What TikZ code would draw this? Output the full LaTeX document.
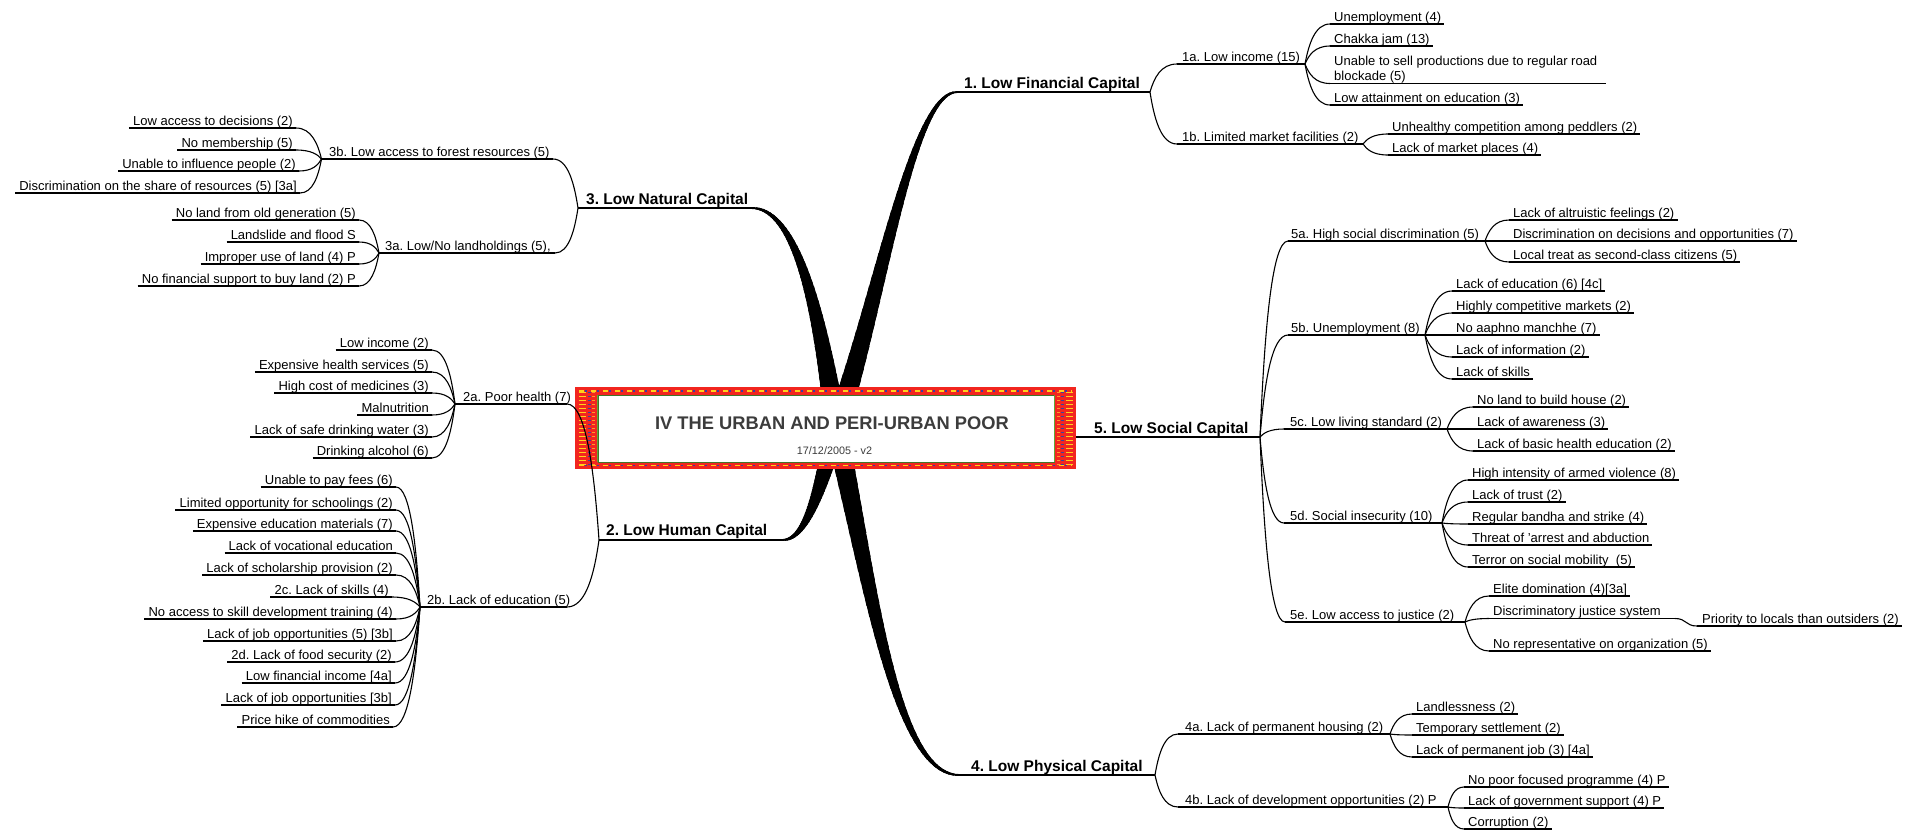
\documentclass[tikz,border=0pt]{standalone}
\usepackage{fontspec}
\setmainfont{Liberation Sans}
\usetikzlibrary{calc}
\definecolor{boxred}{HTML}{F2261F}
\definecolor{boxgreen}{HTML}{5FA83A}
\definecolor{titlegray}{HTML}{3C3C3C}
\definecolor{patyel}{HTML}{FFD21A}
\definecolor{patblue}{HTML}{3B3FA0}
\definecolor{patorange}{HTML}{FF9A2A}
\tikzset{
  txt/.style={font=\fontsize{13}{15}\selectfont\frenchspacing, inner sep=0pt, align=left},
  mainlbl/.style={font=\fontsize{15.5}{18}\selectfont\bfseries\frenchspacing, inner sep=0pt, anchor=base west},
  ul/.style={line width=1.1pt, black},
  mainul/.style={line width=1.8pt, black},
}
\newcommand{\lnk}[2]{\draw[ul] let \p1=(#1), \p2=(#2) in (\p1) .. controls ({\x1+0.15*(\x2-\x1)},{\y1+0.5*(\y2-\y1)}) and ({\x2-0.6*(\x2-\x1)},\y2) .. (\p2);}
% right leaf: name, fork, ul start x, ul y, text
\newcommand{\rleaf}[5]{%
  \coordinate (#1s) at (#3,#4);
  \node[txt, anchor=base west] (#1) at (#3+4,#4-3) {#5};
  \coordinate (#1e) at ($(#1.east |- #1s)+(3pt,0)$);
  \draw[ul] (#1s) -- (#1e);
  \lnk{#2}{#1s}
}
% left leaf: name, fork, text right x, ul y, text
\newcommand{\lleaf}[5]{%
  \coordinate (#1e) at (#3+3,#4);
  \node[txt, anchor=base east] (#1) at (#3,#4-3) {#5};
  \coordinate (#1s) at ($(#1.west |- #1e)+(-4pt,0)$);
  \draw[ul] (#1s) -- (#1e);
  \lnk{#2}{#1e}
}
\newcommand{\taper}[4]{%
  \foreach \kk in {1,...,40}{%
    \pgfmathsetmacro\tpar{\kk/40}%
    \pgfmathsetmacro\tpw{1.8+20*(1-(\kk-1)/40)^1.3}%
    \coordinate (qA) at ($(#1)!\tpar!(#2)$);
    \coordinate (qB) at ($(#2)!\tpar!(#3)$);
    \coordinate (qC) at ($(#3)!\tpar!(#4)$);
    \coordinate (qD) at ($(qA)!\tpar!(qB)$);
    \coordinate (qE) at ($(qB)!\tpar!(qC)$);
    \coordinate (qF) at ($(qD)!\tpar!(qE)$);
    \draw[line width=\tpw pt, black] (#1) .. controls (qA) and (qD) .. (qF);
  }%
}
\begin{document}
\frenchspacing
\begin{tikzpicture}[x=1pt,y=-1pt]
\fill[white] (0,0) rectangle (1921,831);
\useasboundingbox (0,0) rectangle (1921,831);

% ---------- main branches (thick) ----------
\coordinate (c0) at (836,428);
\coordinate (m1s) at (957,92);  \coordinate (f1) at (1150,92);
\coordinate (m3e) at (752,208); \coordinate (f3) at (578,208);
\coordinate (m2e) at (783,540); \coordinate (f2) at (599,540);
\coordinate (m4s) at (959,775); \coordinate (f4) at (1155,775);
\coordinate (b1a) at (880,300); \coordinate (b1b) at (912,92);
\coordinate (b3a) at (822,330); \coordinate (b3b) at (800,208);
\coordinate (b2a) at (822,480); \coordinate (b2b) at (808,540);
\coordinate (b4a) at (870,580); \coordinate (b4b) at (895,775);
\taper{c0}{b1a}{b1b}{m1s}
\taper{c0}{b3a}{b3b}{m3e}
\taper{c0}{b2a}{b2b}{m2e}
\taper{c0}{b4a}{b4b}{m4s}

% ---------- central box ----------
\node[fill=boxred, minimum width=501pt, minimum height=82pt, inner sep=0pt] (root) at (825.5,428) {};
\draw[patyel, line width=1.4pt, dash pattern=on 5pt off 7pt] ([xshift=4pt,yshift=-4pt]root.north west) -- ([xshift=-4pt,yshift=-4pt]root.north east);
\draw[patblue, line width=1.4pt, dash pattern=on 2pt off 10pt, dash phase=-6pt] ([xshift=4pt,yshift=-4pt]root.north west) -- ([xshift=-4pt,yshift=-4pt]root.north east);
\draw[patyel, line width=1.4pt, dash pattern=on 5pt off 7pt] ([xshift=4pt,yshift=3.5pt]root.south west) -- ([xshift=-4pt,yshift=3.5pt]root.south east);
\draw[patblue, line width=1.4pt, dash pattern=on 2pt off 10pt, dash phase=-6pt] ([xshift=4pt,yshift=3.5pt]root.south west) -- ([xshift=-4pt,yshift=3.5pt]root.south east);
\foreach \yy in {392,396,...,464}{
  \draw[patyel, line width=1pt] (579,\yy) -- (586,\yy);
  \draw[patblue, line width=1pt] (588,\yy) -- (591,\yy);
  \draw[patorange, line width=1pt] (592,\yy) -- (595,\yy);
  \draw[patorange, line width=1pt] (1057,\yy) -- (1060,\yy);
  \draw[patblue, line width=1pt] (1061,\yy) -- (1064,\yy);
  \draw[patyel, line width=1pt] (1066,\yy) -- (1073,\yy);
}
\node[fill=white, draw=boxgreen!70!black, line width=0.6pt, minimum width=456pt, minimum height=67pt, inner sep=0pt] (inner) at (826,428.5) {};
\draw[boxgreen, line width=1.5pt] (inner.south west) -- (inner.north west);
\draw[boxgreen, line width=1.5pt] (inner.south east) -- (inner.north east);
\node[font=\fontsize{18.3}{20}\selectfont\bfseries, text=titlegray, inner sep=0pt, anchor=base] (title) at (832,429.5) {IV THE URBAN AND PERI-URBAN POOR};
\node[font=\fontsize{10.8}{12}\selectfont, text=titlegray, inner sep=0pt, anchor=base] (date) at (834.5,454) {17/12/2005 - v2};

% ---------- 1. Low Financial Capital ----------
\node[mainlbl] (n1) at (964,88) {1. Low Financial Capital};
\draw[mainul] (m1s) -- (f1);
\coordinate (p1as) at (1177,64); \coordinate (f1a) at (1305,64);
\node[txt, anchor=base west] (n1a) at (1182,61) {1a. Low income (15)};
\draw[ul] (p1as) -- (f1a); \lnk{f1}{p1as}
\rleaf{a1}{f1a}{1330}{24}{Unemployment (4)}
\rleaf{a2}{f1a}{1330}{46}{Chakka jam (13)}
\coordinate (a3s) at (1330,83.5);
\node[txt, anchor=south west] (a3) at (1334,83) {Unable to sell productions due to regular road\\blockade (5)};
\coordinate (a3e) at (1606,83.5);
\draw[ul] (a3s) -- (a3e); \lnk{f1a}{a3s}
\rleaf{a4}{f1a}{1330}{105}{Low attainment on education (3)}
\coordinate (p1bs) at (1177,144); \coordinate (f1b) at (1363,144);
\node[txt, anchor=base west] (n1b) at (1182,141) {1b. Limited market facilities (2)};
\draw[ul] (p1bs) -- (f1b); \lnk{f1}{p1bs}
\rleaf{b1}{f1b}{1388}{134}{Unhealthy competition among peddlers (2)}
\rleaf{b2}{f1b}{1388}{155}{Lack of market places (4)}

% ---------- 5. Low Social Capital ----------
\coordinate (f5) at (1260,437);
\coordinate (m5s) at (root.east |- f5);
\node[mainlbl] (n5) at (1094,433) {5. Low Social Capital};
\draw[mainul] (m5s) -- (f5);
\coordinate (p5as) at (1288,241); \coordinate (f5a) at (1485,241);
\node[txt, anchor=base west] (n5a) at (1291,238) {5a. High social discrimination (5)};
\draw[ul] (p5as) -- (f5a); \lnk{f5}{p5as}
\rleaf{sa1}{f5a}{1509}{220}{Lack of altruistic feelings (2)}
\rleaf{sa2}{f5a}{1509}{241}{Discrimination on decisions and opportunities (7)}
\rleaf{sa3}{f5a}{1509}{262}{Local treat as second-class citizens (5)}
\coordinate (p5bs) at (1288,335); \coordinate (f5b) at (1425,335);
\node[txt, anchor=base west] (n5b) at (1291,332) {5b. Unemployment (8)};
\draw[ul] (p5bs) -- (f5b); \lnk{f5}{p5bs}
\rleaf{sb1}{f5b}{1452}{291}{Lack of education (6) [4c]}
\rleaf{sb2}{f5b}{1452}{313}{Highly competitive markets (2)}
\rleaf{sb3}{f5b}{1452}{335}{No aaphno manchhe (7)}
\rleaf{sb4}{f5b}{1452}{357}{Lack of information (2)}
\rleaf{sb5}{f5b}{1452}{379}{Lack of skills}
\coordinate (p5cs) at (1284,429); \coordinate (f5c) at (1447,429);
\node[txt, anchor=base west] (n5c) at (1290,426) {5c. Low living standard (2)};
\draw[ul] (p5cs) -- (f5c); \lnk{f5}{p5cs}
\rleaf{sc1}{f5c}{1473}{407}{No land to build house (2)}
\rleaf{sc2}{f5c}{1473}{429}{Lack of awareness (3)}
\rleaf{sc3}{f5c}{1473}{451}{Lack of basic health education (2)}
\coordinate (p5ds) at (1284,523); \coordinate (f5d) at (1442,523);
\node[txt, anchor=base west] (n5d) at (1290,520) {5d. Social insecurity (10)};
\draw[ul] (p5ds) -- (f5d); \lnk{f5}{p5ds}
\rleaf{sd1}{f5d}{1468}{480}{High intensity of armed violence (8)}
\rleaf{sd2}{f5d}{1468}{502}{Lack of trust (2)}
\rleaf{sd3}{f5d}{1468}{524}{Regular bandha and strike (4)}
\rleaf{sd4}{f5d}{1468}{545}{Threat of 'arrest and abduction}
\rleaf{sd5}{f5d}{1468}{567}{Terror on social mobility\ \ (5)}
\coordinate (p5es) at (1285,622); \coordinate (f5e) at (1465,622);
\node[txt, anchor=base west] (n5e) at (1290,619) {5e. Low access to justice (2)};
\draw[ul] (p5es) -- (f5e); \lnk{f5}{p5es}
\rleaf{se1}{f5e}{1489}{596}{Elite domination (4)[3a]}
\coordinate (se2s) at (1489,618.5); \coordinate (se2e) at (1675,618.5);
\node[txt, anchor=base west] (se2) at (1493,615.5) {Discriminatory justice system};
\draw[ul] (se2s) -- (se2e); \lnk{f5e}{se2s}
\coordinate (se2as) at (1697,626);
\node[txt, anchor=base west] (se2a) at (1702,623) {Priority to locals than outsiders (2)};
\coordinate (se2ae) at ($(se2a.east |- se2as)+(3pt,0)$);
\draw[ul] (se2as) -- (se2ae);
\draw[ul] (se2e) .. controls +(12pt,0) and +(-12pt,0) .. (se2as);
\rleaf{se3}{f5e}{1489}{651}{No representative on organization (5)}

% ---------- 4. Low Physical Capital ----------
\node[mainlbl] (n4) at (971,771) {4. Low Physical Capital};
\draw[mainul] (m4s) -- (f4);
\coordinate (p4as) at (1178,734); \coordinate (f4a) at (1390,734);
\node[txt, anchor=base west] (n4a) at (1185,731) {4a. Lack of permanent housing (2)};
\draw[ul] (p4as) -- (f4a); \lnk{f4}{p4as}
\rleaf{pa1}{f4a}{1412}{714}{Landlessness (2)}
\rleaf{pa2}{f4a}{1412}{735}{Temporary settlement (2)}
\rleaf{pa3}{f4a}{1412}{757}{Lack of permanent job (3) [4a]}
\coordinate (p4bs) at (1178,807); \coordinate (f4b) at (1448,807);
\node[txt, anchor=base west] (n4b) at (1185,804) {4b. Lack of development opportunities (2) P};
\draw[ul] (p4bs) -- (f4b); \lnk{f4}{p4bs}
\rleaf{pb1}{f4b}{1464}{787}{No poor focused programme (4) P}
\rleaf{pb2}{f4b}{1464}{808}{Lack of government support (4) P}
\rleaf{pb3}{f4b}{1464}{829}{Corruption (2)}

% ---------- 3. Low Natural Capital ----------
\node[mainlbl] (n3) at (586,204) {3. Low Natural Capital};
\draw[mainul] (f3) -- (m3e);
\coordinate (f3b) at (321.5,159); \coordinate (p3be) at (553,159);
\node[txt, anchor=base west] (n3b) at (329,156) {3b. Low access to forest resources (5)};
\draw[ul] (f3b) -- (p3be); \lnk{f3}{p3be}
\lleaf{na1}{f3b}{293}{128}{Low access to decisions (2)}
\lleaf{na2}{f3b}{293}{150}{No membership (5)}
\lleaf{na3}{f3b}{296}{171}{Unable to influence people (2)}
\lleaf{na4}{f3b}{297}{193}{Discrimination on the share of resources (5) [3a]}
\coordinate (f3a) at (379,253); \coordinate (p3ae) at (555,253);
\node[txt, anchor=base west] (n3a) at (385,250) {3a. Low/No landholdings (5),};
\draw[ul] (f3a) -- (p3ae); \lnk{f3}{p3ae}
\lleaf{nb1}{f3a}{356}{220}{No land from old generation (5)}
\lleaf{nb2}{f3a}{356}{242}{Landslide and flood S}
\lleaf{nb3}{f3a}{356}{264}{Improper use of land (4) P}
\lleaf{nb4}{f3a}{356}{286}{No financial support to buy land (2) P}

% ---------- 2. Low Human Capital ----------
\node[mainlbl] (n2) at (606,535.5) {2. Low Human Capital};
\draw[mainul] (f2) -- (m2e);
\coordinate (f2a) at (455,404); \coordinate (p2ae) at (567,404);
\node[txt, anchor=base west] (n2a) at (463,401) {2a. Poor health (7)};
\draw[ul] (f2a) -- (p2ae); \lnk{f2}{p2ae}
\lleaf{ha1}{f2a}{429}{350}{Low income (2)}
\lleaf{ha2}{f2a}{429}{372}{Expensive health services (5)}
\lleaf{ha3}{f2a}{429}{393}{High cost of medicines (3)}
\lleaf{ha4}{f2a}{429}{415}{Malnutrition}
\lleaf{ha5}{f2a}{429}{437}{Lack of safe drinking water (3)}
\lleaf{ha6}{f2a}{429}{458}{Drinking alcohol (6)}
\coordinate (f2b) at (420,607); \coordinate (p2be) at (567,607);
\node[txt, anchor=base west] (n2b) at (427,604) {2b. Lack of education (5)};
\draw[ul] (f2b) -- (p2be); \lnk{f2}{p2be}
\lleaf{hb1}{f2b}{393}{487}{Unable to pay fees (6)}
\lleaf{hb2}{f2b}{393}{510}{Limited opportunity for schoolings (2)}
\lleaf{hb3}{f2b}{393}{531}{Expensive education materials (7)}
\lleaf{hb4}{f2b}{393}{553}{Lack of vocational education}
\lleaf{hb5}{f2b}{393}{575}{Lack of scholarship provision (2)}
\lleaf{hb6}{f2b}{389}{597}{2c. Lack of skills (4)}
\lleaf{hb7}{f2b}{393}{619}{No access to skill development training (4)}
\lleaf{hb8}{f2b}{393}{641}{Lack of job opportunities (5) [3b]}
\lleaf{hb9}{f2b}{392}{662}{2d. Lack of food security (2)}
\lleaf{hb10}{f2b}{392}{683}{Low financial income [4a]}
\lleaf{hb11}{f2b}{392}{705}{Lack of job opportunities [3b]}
\lleaf{hb12}{f2b}{390}{727}{Price hike of commodities}
\end{tikzpicture}
\end{document}
